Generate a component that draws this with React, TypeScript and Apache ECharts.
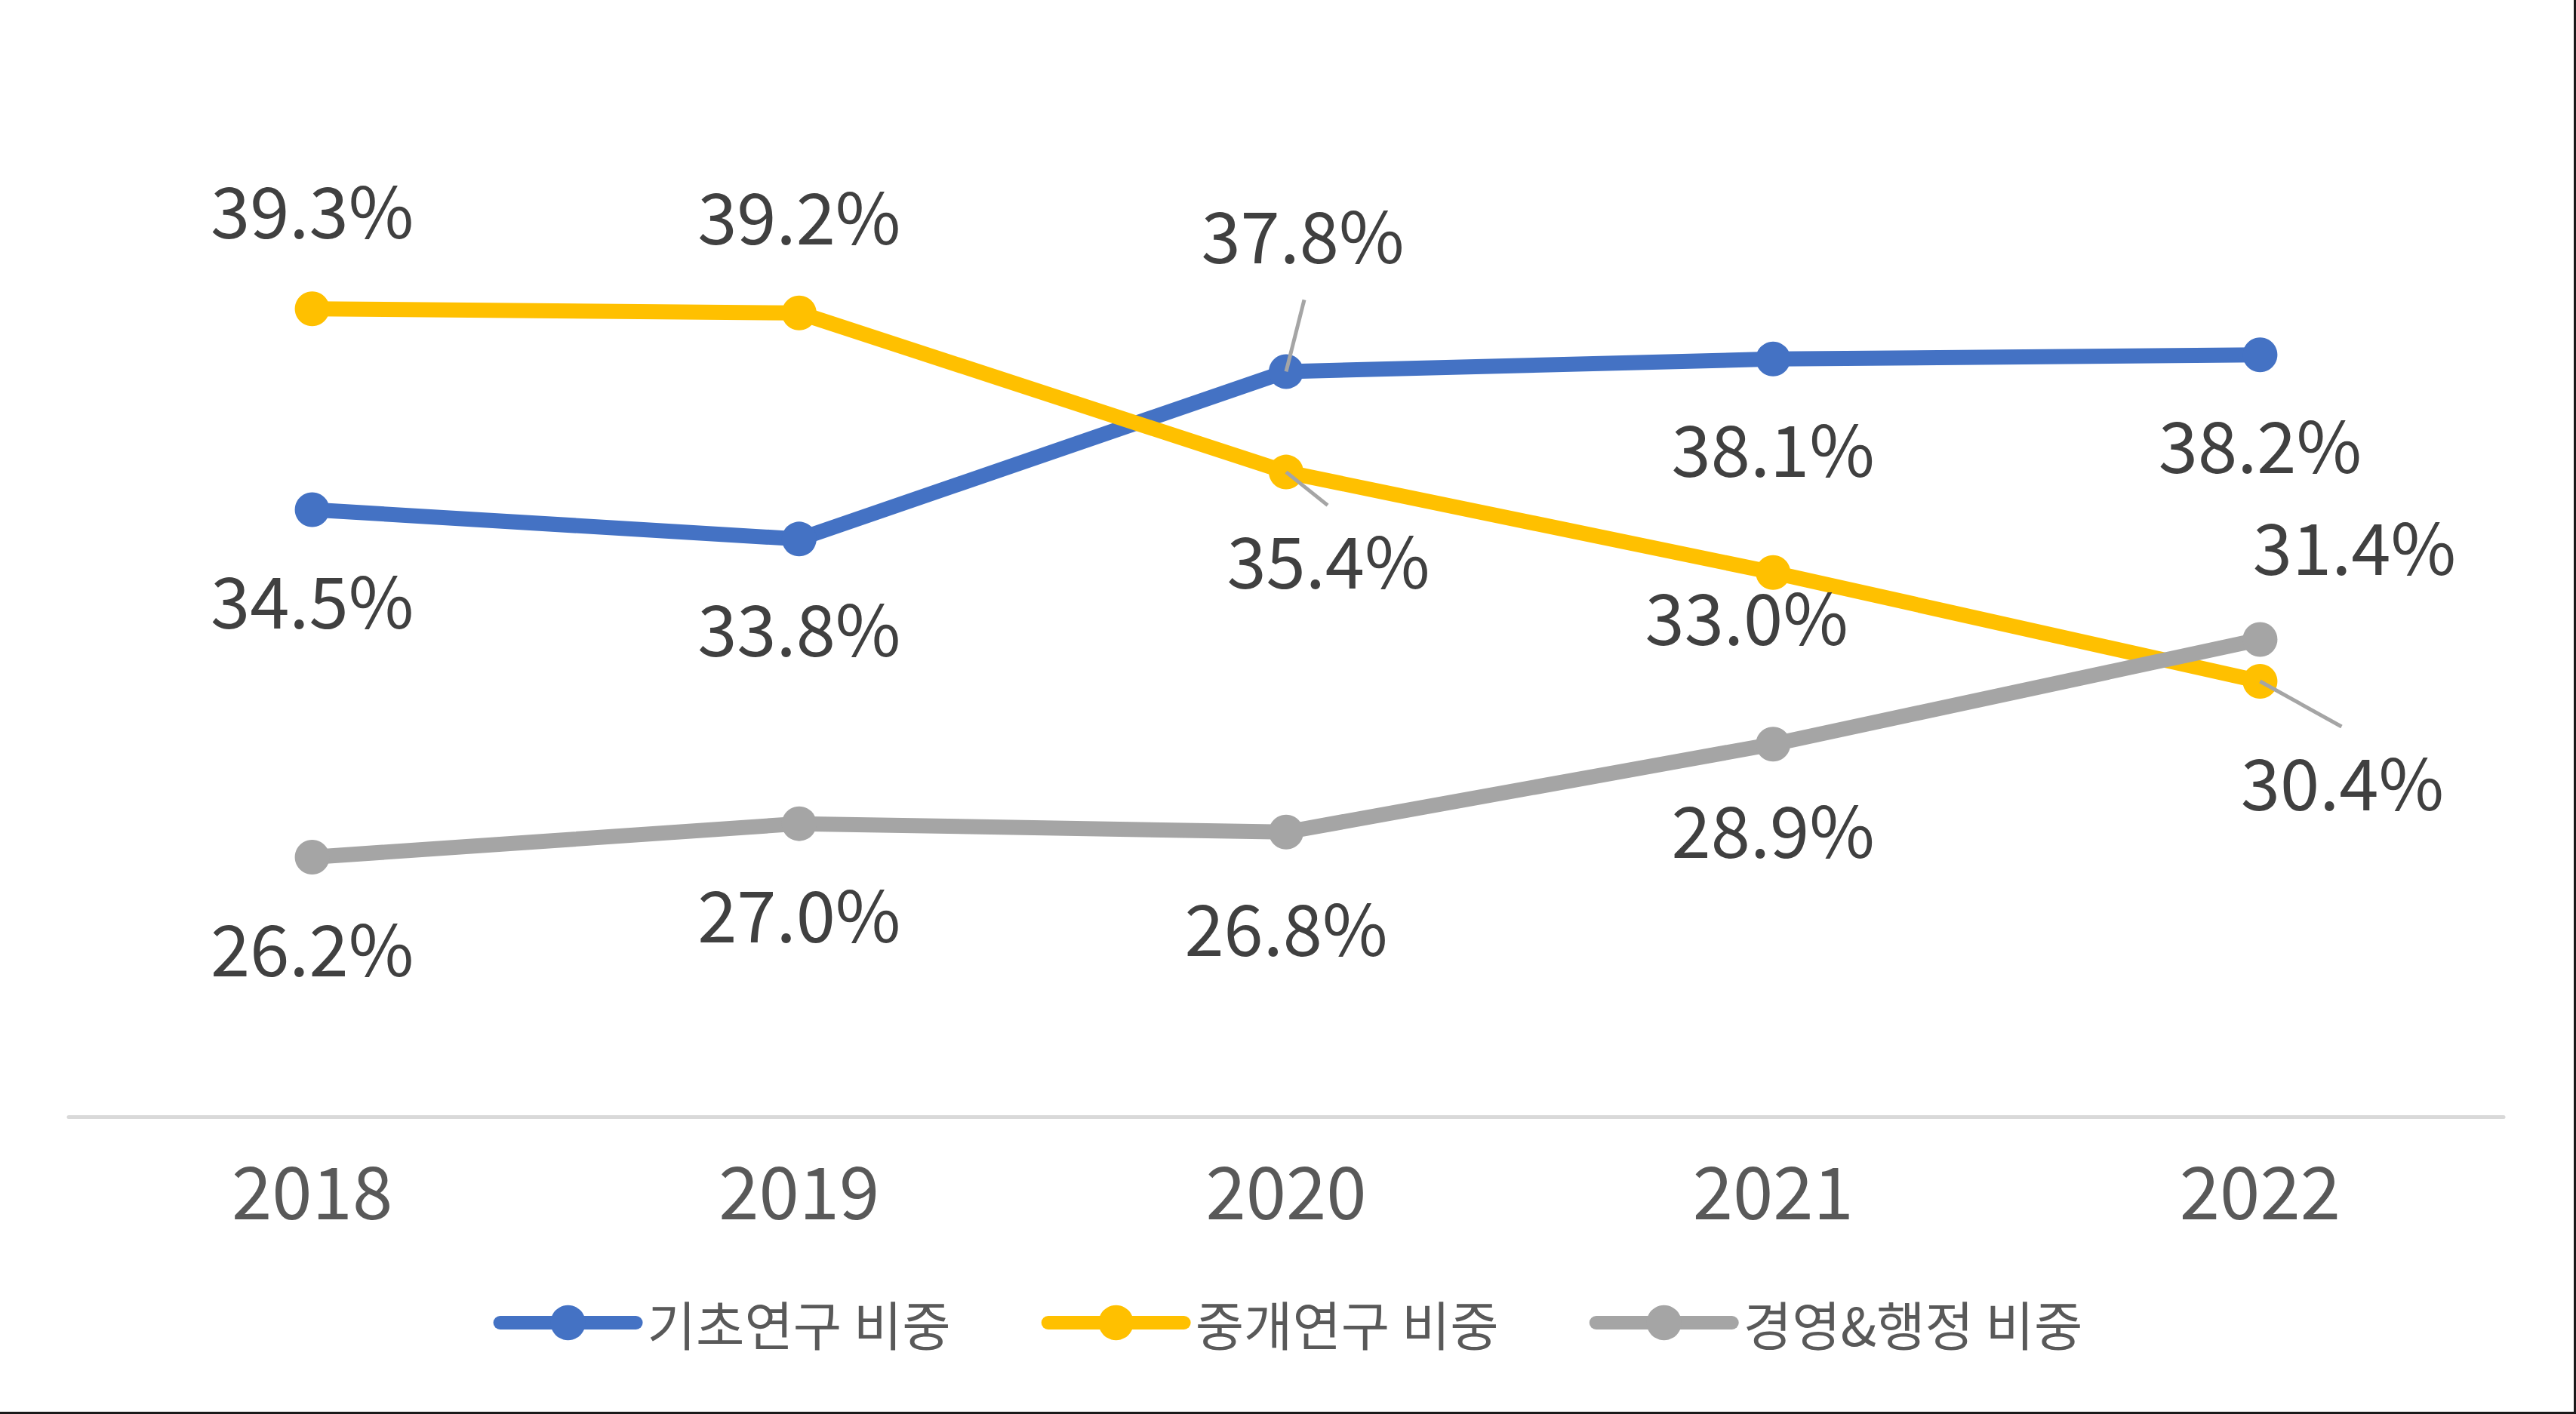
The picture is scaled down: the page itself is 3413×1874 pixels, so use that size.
import React, { useEffect, useRef } from "react";
import * as echarts from "echarts";

const categories = ["2018", "2019", "2020", "2021", "2022"];
const seriesNames = ["기초연구 비중", "중개연구 비중", "경영&행정 비중"];
const basicShare = [34.5, 33.8, 37.8, 38.1, 38.2];
const translationalShare = [39.3, 39.2, 35.4, 33.0, 30.4];
const adminShare = [26.2, 27.0, 26.8, 28.9, 31.4];

const allValues = [basicShare, translationalShare, adminShare];
const colors = ["#4472C4", "#FFC000", "#A5A5A5"];

// label placement offsets (px) relative to each point
const labelOffsets = [
  [[0, 116], [0, 115], [22, -184], [0, 115], [0, 116]],
  [[0, -134], [0, -132], [56, 113], [-35, 55], [109, 130]],
  [[0, 117], [0, 116], [0, 123], [0, 110], [125, -127]],
];

// leader lines: which point, and end offset in px
const leaderLines = [
  { series: 0, index: 2, dx: 24, dy: -95 },
  { series: 1, index: 2, dx: 55, dy: 44 },
  { series: 1, index: 4, dx: 108, dy: 60 },
];

const FONT = "'Noto Sans CJK KR', 'Noto Sans', sans-serif";

export default function App() {
  const ref = useRef<HTMLDivElement>(null);
  useEffect(() => {
    if (!ref.current) return;
    const chart = echarts.init(ref.current, null, { renderer: "svg" });
    const lineSeries = allValues.map((vals, s) => ({
      type: "line",
      name: seriesNames[s],
      data: vals.map((v, i) => ({
        value: v,
        label: { offset: labelOffsets[s][i] },
      })),
      symbol: "circle",
      symbolSize: 46,
      lineStyle: { color: colors[s], width: 20, cap: "round", join: "round" },
      itemStyle: { color: colors[s] },
      z: 2 + s,
      label: {
        show: true,
        position: "inside",
        fontSize: 94,
        lineHeight: 94,
        fontFamily: FONT,
        color: "#404040",
        formatter: (p: any) => Number(p.value).toFixed(1) + "%",
      },
    }));
    chart.setOption({
      animation: false,
      backgroundColor: "#ffffff",
      grid: { left: 91, right: 96, top: 93, bottom: 394, containLabel: false },
      xAxis: {
        type: "category",
        data: categories,
        boundaryGap: true,
        axisLine: { show: true, lineStyle: { color: "#D9D9D9", width: 5 } },
        axisTick: { show: false },
        axisLabel: {
          fontSize: 96,
          lineHeight: 96,
          margin: 46,
          color: "#595959",
          fontFamily: FONT,
        },
      },
      yAxis: {
        type: "value",
        min: 20,
        max: 45,
        show: false,
        splitLine: { show: false },
      },
      legend: {
        data: seriesNames,
        left: "center",
        top: 1713,
        itemWidth: 180,
        itemHeight: 58,
        itemGap: 120,
        lineStyle: { width: 18, cap: "round" },
        textStyle: {
          fontSize: 70,
          lineHeight: 58,
          color: "#595959",
          fontFamily: FONT,
          padding: [0, 0, 0, 10],
        },
      },
      graphic: [
        { type: "rect", shape: { x: 3410, y: 0, width: 3, height: 1874 }, style: { fill: "#1a1a1a" } },
        { type: "rect", shape: { x: 0, y: 1871, width: 3413, height: 3 }, style: { fill: "#1a1a1a" } },
      ],
      series: [
        ...lineSeries,
        {
          type: "custom",
          name: "leaders",
          z: 10,
          data: leaderLines.map((l) => [l.index, allValues[l.series][l.index]]),
          renderItem: (params: any, api: any) => {
            const p = api.coord([api.value(0), api.value(1)]);
            const l = leaderLines[params.dataIndex];
            return {
              type: "line",
              shape: { x1: p[0], y1: p[1], x2: p[0] + l.dx, y2: p[1] + l.dy },
              style: { stroke: "#A5A5A5", lineWidth: 5 },
            };
          },
        },
      ],
    });
    return () => chart.dispose();
  }, []);
  return (
    <div
      ref={ref}
      style={{ position: "absolute", left: 0, top: 0, width: 3413, height: 1874 }}
    />
  );
}
